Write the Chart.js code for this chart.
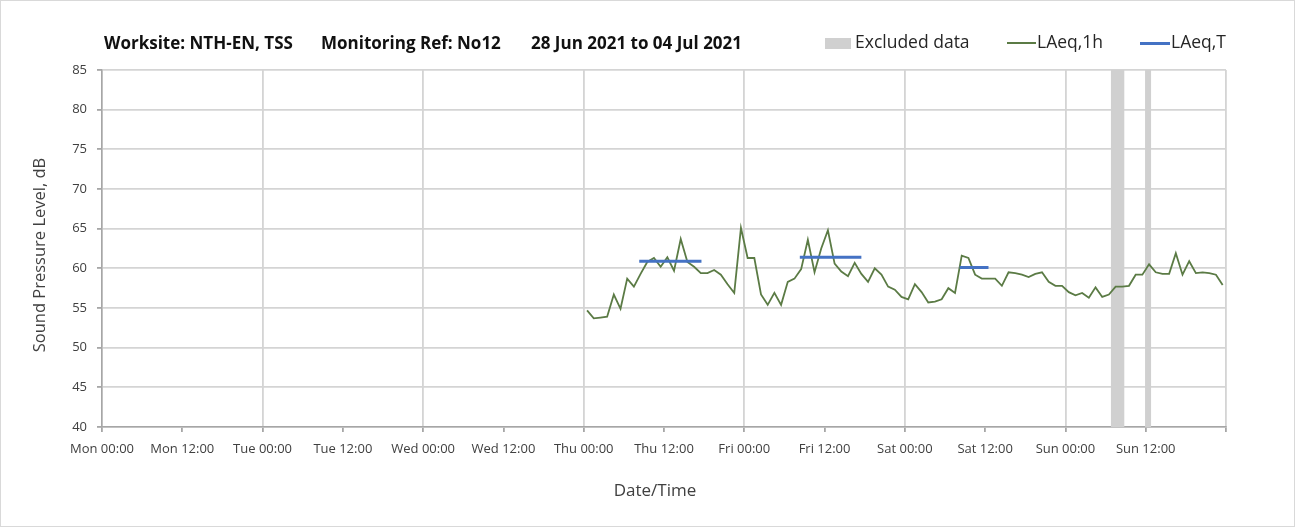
<!DOCTYPE html>
<html>
<head>
<meta charset="utf-8">
<script src="https://cdn.jsdelivr.net/npm/chart.js@4.4.1/dist/chart.umd.min.js"></script>
<style>
  html, body { margin: 0; padding: 0; background: #ffffff; }
  #wrap { position: relative; width: 1295px; height: 527px; overflow: hidden; }
  #frame { position: absolute; left: 0; top: 0; width: 1295px; height: 527px; box-sizing: border-box; border: 1px solid #d9d9d9; pointer-events: none; }
  canvas { position: absolute; left: 0; top: 0; }
  .txt { position: absolute; white-space: pre; font-family: "Open Sans", "DejaVu Sans", sans-serif; line-height: 1; }
  .title { font-weight: bold; font-size: 17px; color: #111; top: 34px; }
  .leg { font-size: 17.5px; color: #262626; top: 33px; }
  .axt { font-size: 17px; color: #404040; }
  .sw { position: absolute; }
</style>
</head>
<body>
<div id="wrap">
  <canvas id="c" width="1295" height="527"></canvas>
  <div class="txt title" style="left:104px">Worksite: NTH-EN, TSS</div>
  <div class="txt title" style="left:321px">Monitoring Ref: No12</div>
  <div class="txt title" style="left:531px">28 Jun 2021 to 04 Jul 2021</div>
  <div class="sw" style="left:825px;top:38px;width:26px;height:11px;background:#d0d0d0"></div>
  <div class="txt leg" style="left:855px">Excluded data</div>
  <div class="sw" style="left:1007px;top:42px;width:29px;height:2px;background:#5b7b45"></div>
  <div class="txt leg" style="left:1037px">LAeq,1h</div>
  <div class="sw" style="left:1140px;top:42px;width:30px;height:3px;background:#4472c4"></div>
  <div class="txt leg" style="left:1171px">LAeq,T</div>
  <div class="txt axt" style="left:555px;width:200px;text-align:center;top:481px">Date/Time</div>
  <div class="txt axt" style="left:-60px;width:200px;text-align:center;top:246px;font-size:16.5px;transform:rotate(-90deg);transform-origin:100px 9px">Sound Pressure Level, dB</div>
  <div id="frame"></div>
</div>
<script>
// ---- Data (hours counted from Mon 00:00) ----
const xTickLabels = ["Mon 00:00","Mon 12:00","Tue 00:00","Tue 12:00","Wed 00:00","Wed 12:00",
                     "Thu 00:00","Thu 12:00","Fri 00:00","Fri 12:00","Sat 00:00","Sat 12:00",
                     "Sun 00:00","Sun 12:00"];
const yTicks = [40,45,50,55,60,65,70,75,80,85];

// LAeq,1h : hourly values, first one plotted at Thu 00:30
const hourlyStart = 72.5;
const laeq1hThu = [54.7,53.7,53.8,53.9,56.7,54.9,58.7,57.7,59.3,60.8,61.3,60.2,
                   61.4,59.7,63.7,60.8,60.2,59.4,59.4,59.8,59.2,58.0,56.9,65.1];
const laeq1hFri = [61.3,61.3,56.7,55.4,56.9,55.4,58.3,58.7,59.9,63.6,59.5,62.5,
                   64.8,60.6,59.6,59.0,60.7,59.3,58.3,60.0,59.2,57.7,57.3,56.4];
const laeq1hSat = [56.1,58.0,57.0,55.7,55.8,56.1,57.5,56.9,61.6,61.3,59.2,58.7,
                   58.7,58.7,57.8,59.5,59.4,59.2,58.9,59.3,59.5,58.3,57.8,57.8];
const laeq1hSun = [57.0,56.6,56.9,56.3,57.6,56.4,56.7,57.7,57.7,57.8,59.2,59.2,
                   60.5,59.5,59.3,59.3,61.9,59.2,60.9,59.4,59.5,59.4,59.2,57.9];

// LAeq,T periods
const periodStart = [80.3, 104.3, 128.2];
const periodEnd   = [89.6, 113.5, 132.5];
const periodValue = [60.9, 61.4, 60.1];

// Excluded data bands
const excludedStart = [150.8, 155.9];
const excludedEnd   = [152.8, 156.8];

// ---- Build datasets ----
const hourlyValues = [].concat(laeq1hThu, laeq1hFri, laeq1hSat, laeq1hSun);
const hourlyData = hourlyValues.map((v, i) => ({ x: hourlyStart + i, y: v }));
const periodData = [];
periodStart.forEach((s, i) => {
  periodData.push({ x: s, y: periodValue[i] });
  periodData.push({ x: periodEnd[i], y: periodValue[i] });
  periodData.push({ x: periodEnd[i] + 0.01, y: null });
});

const GREEN = '#5b7b45', BLUE = '#4472c4', BAND = '#d0d0d0';
const GRID = '#d4d4d4', AXIS = '#a6a6a6';
const FONT = '"Open Sans", "DejaVu Sans", sans-serif';

const bandPlugin = {
  id: 'bands',
  beforeDatasetsDraw(chart) {
    const { ctx, chartArea: a, scales: { x } } = chart;
    ctx.save();
    ctx.fillStyle = BAND;
    excludedStart.forEach((s, i) => {
      const x0 = x.getPixelForValue(s), x1 = x.getPixelForValue(excludedEnd[i]);
      ctx.fillRect(x0, a.top, x1 - x0, a.bottom - a.top);
    });
    ctx.restore();
  }
};

new Chart(document.getElementById('c'), {
  type: 'line',
  data: {
    datasets: [
      { label: 'LAeq,1h', data: hourlyData, borderColor: GREEN, borderWidth: 1.8,
        pointRadius: 0, tension: 0, order: 2 },
      { label: 'LAeq,T', data: periodData, borderColor: BLUE, borderWidth: 3,
        pointRadius: 0, spanGaps: false, borderCapStyle: 'butt', order: 1 }
    ]
  },
  options: {
    responsive: false,
    animation: false,
    layout: { padding: { left: 0, right: 69, top: 70, bottom: 0 } },
    plugins: { legend: { display: false }, title: { display: false }, tooltip: { enabled: false } },
    scales: {
      x: {
        type: 'linear', min: 0, max: 168,
        ticks: {
          stepSize: 12, autoSkip: false, maxRotation: 0, padding: 9,
          color: '#404040', font: { family: FONT, size: 13 },
          callback: (v, i) => xTickLabels[i] || ''
        },
        grid: {
          color: c => (c.tick && c.tick.value % 24 === 0) ? GRID : 'rgba(0,0,0,0)',
          lineWidth: 1.8, tickColor: AXIS, tickLength: 5, drawTicks: true
        },
        border: { color: AXIS, width: 1.5 },
        title: { display: false },
        afterFit: s => { s.height = 100; }
      },
      y: {
        min: 40, max: 85,
        afterBuildTicks: s => { s.ticks = yTicks.map(v => ({ value: v })); },
        ticks: { padding: 10, color: '#404040', font: { family: FONT, size: 13 } },
        grid: { color: GRID, lineWidth: 1.8, tickColor: AXIS, tickLength: 5 },
        border: { color: AXIS, width: 1.5 },
        title: { display: false },
        afterFit: s => { s.width = 102; }
      }
    }
  },
  plugins: [bandPlugin]
});
</script>
</body>
</html>
